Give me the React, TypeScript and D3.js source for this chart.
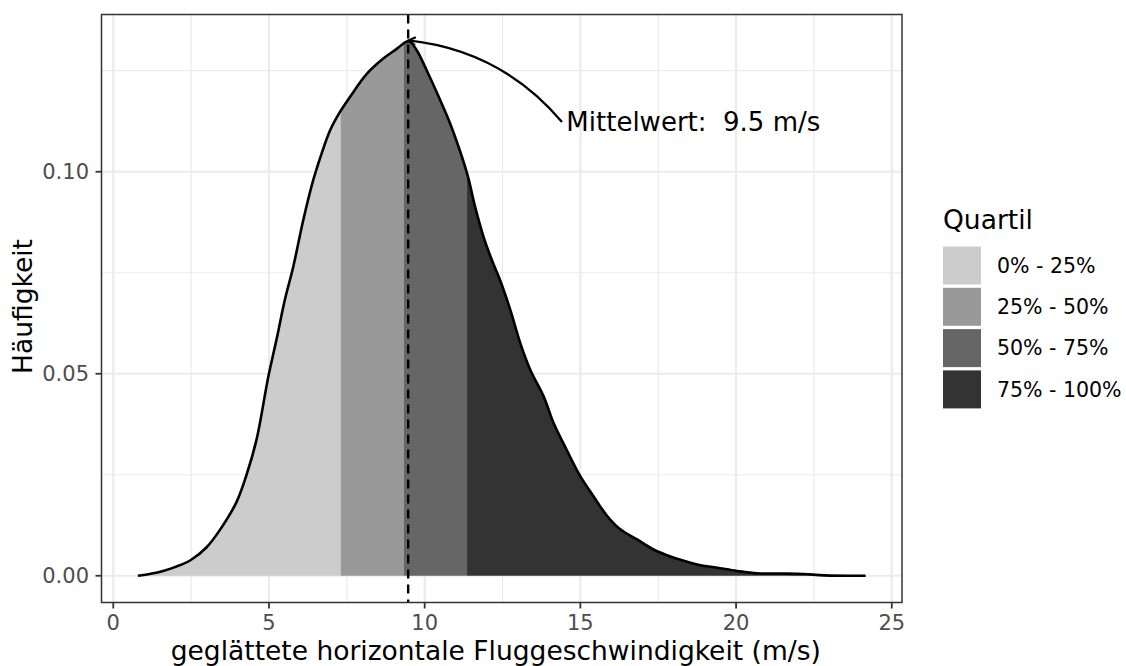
import React from "react";
import * as d3 from "d3";

// ---- data ----
const densX = [0.79, 1.2, 1.6, 2.0, 2.49, 2.99, 3.42, 3.96, 4.28, 4.6, 4.98, 5.24, 5.51, 5.78, 6.1, 6.42, 6.69, 6.96, 7.28, 7.6, 8.14, 8.67, 9.1, 9.37, 9.51, 9.75, 10.07, 10.5, 10.82, 11.14, 11.4, 11.62, 11.89, 12.16, 12.42, 12.75, 13.07, 13.39, 13.82, 14.14, 14.57, 15.0, 15.42, 15.86, 16.28, 16.82, 17.35, 17.78, 18.32, 18.86, 19.39, 20.03, 20.68, 21.43, 22.18, 22.82, 24.16];
const densY = [0.0, 0.0005, 0.0012, 0.0022, 0.0039, 0.007, 0.0113, 0.0183, 0.025, 0.0337, 0.0493, 0.0584, 0.0683, 0.0765, 0.088, 0.0979, 0.1045, 0.1102, 0.1148, 0.1185, 0.1242, 0.128, 0.1304, 0.132, 0.1323, 0.13, 0.125, 0.1177, 0.1119, 0.105, 0.0985, 0.0913, 0.0839, 0.0781, 0.0732, 0.0658, 0.0576, 0.051, 0.0444, 0.0378, 0.031, 0.0246, 0.0197, 0.0148, 0.0115, 0.009, 0.0065, 0.0051, 0.0037, 0.0026, 0.002, 0.0012, 0.0006, 0.00055, 0.00045, 0.0001, 0.0];

const quartileBreaks = [7.3, 9.32, 11.36];
const quartileLabels = ["0% - 25%", "25% - 50%", "50% - 75%", "75% - 100%"];
const quartileColors = ["#CCCCCC", "#999999", "#666666", "#333333"];

const meanValue = 9.47;
const meanLabel = "Mittelwert:  9.5 m/s";
const annotFrom = [14.41, 0.1123];
const annotTo = [9.48, 0.1325];
const annotText = [14.55, 0.1123];

const xTicks = [0, 5, 10, 15, 20, 25];
const xMinor = [2.5, 7.5, 12.5, 17.5, 22.5];
const yTicks = [0, 0.05, 0.1];
const yMinor = [0.025, 0.075, 0.125];

const xTitle = "geglättete horizontale Fluggeschwindigkeit (m/s)";
const yTitle = "Häufigkeit";
const legendTitle = "Quartil";

// ---- layout ----
const W = 1126, H = 666;
const P = { left: 101.5, right: 902, top: 14.5, bottom: 602.5 };
const FONT = "DejaVu Sans, sans-serif";
const TITLE_SIZE = 26.5;
const SMALL_SIZE = 21;

export default function App() {
  const xMin = d3.min(densX)!, xMax = d3.max(densX)!;
  const xSpan = xMax - xMin;
  const yMax = d3.max(densY)!;
  const x = d3.scaleLinear().domain([xMin - 0.05 * xSpan, xMax + 0.05 * xSpan]).range([P.left, P.right]);
  const y = d3.scaleLinear().domain([-0.05 * yMax, yMax * 1.05]).range([P.bottom, P.top]);

  const pts: [number, number][] = densX.map((v, i) => [v, densY[i]]);
  const curve = d3.curveCatmullRom.alpha(0.5);
  const area = d3.area<[number, number]>().x(d => x(d[0])).y0(y(0)).y1(d => Math.min(y(0), y(d[1]))).curve(curve);
  const line = d3.line<[number, number]>().x(d => x(d[0])).y(d => y(d[1])).curve(curve);

  const edges = [xMin, ...quartileBreaks, xMax];

  // annotation curve (quadratic, bulging upward)
  const sx = x(annotFrom[0]), sy = y(annotFrom[1]);
  const ex = x(annotTo[0]), ey = y(annotTo[1]);
  const dx = ex - sx, dy = ey - sy;
  const k = 0.2;
  const ctrlX = (sx + ex) / 2 - k * dy;
  const ctrlY = (sy + ey) / 2 + k * dx;
  const curvePath = `M${sx},${sy} Q${ctrlX},${ctrlY} ${ex},${ey}`;
  const ang = Math.atan2(ey - ctrlY, ex - ctrlX);
  const ah = 8, aa = Math.PI / 6;
  const a1x = ex - ah * Math.cos(ang - aa), a1y = ey - ah * Math.sin(ang - aa);
  const a2x = ex - ah * Math.cos(ang + aa), a2y = ey - ah * Math.sin(ang + aa);

  const legendX = 943;
  const legendKeyTop = 245;
  const keyStep = 41.3;

  return (
    <svg width={W} height={H} style={{ position: "absolute", left: 0, top: 0, background: "#fff" }} fontFamily={FONT}>
      <rect x={0} y={0} width={W} height={H} fill="#fff" />
      <defs>
        {quartileColors.map((c, i) => (
          <clipPath id={`q${i}`} key={i}>
            <rect x={x(edges[i]) - (i === 0 ? 2 : 0)} y={P.top} width={x(edges[i + 1]) - x(edges[i]) + (i === 3 || i === 0 ? 2 : 0)} height={P.bottom - P.top} />
          </clipPath>
        ))}
      </defs>
      {/* grid */}
      {xMinor.map(v => <line key={"xm" + v} x1={x(v)} x2={x(v)} y1={P.top} y2={P.bottom} stroke="#EBEBEB" strokeWidth={1.2} />)}
      {yMinor.map(v => <line key={"ym" + v} x1={P.left} x2={P.right} y1={y(v)} y2={y(v)} stroke="#EBEBEB" strokeWidth={1.2} />)}
      {xTicks.map(v => <line key={"xg" + v} x1={x(v)} x2={x(v)} y1={P.top} y2={P.bottom} stroke="#EBEBEB" strokeWidth={2.2} />)}
      {yTicks.map(v => <line key={"yg" + v} x1={P.left} x2={P.right} y1={y(v)} y2={y(v)} stroke="#EBEBEB" strokeWidth={2.2} />)}

      {/* quartile fills */}
      {quartileColors.map((c, i) => (
        <path key={"a" + i} d={area(pts) || ""} fill={c} clipPath={`url(#q${i})`} />
      ))}
      <path d={line(pts) || ""} fill="none" stroke="#000" strokeWidth={2.6} strokeLinejoin="round" />

      {/* mean line */}
      <line x1={x(meanValue)} x2={x(meanValue)} y1={P.top} y2={P.bottom} stroke="#000" strokeWidth={2.4} strokeDasharray="9,6" />

      {/* annotation */}
      <path d={curvePath} fill="none" stroke="#000" strokeWidth={2.2} />
      <polyline points={`${a1x},${a1y} ${ex},${ey} ${a2x},${a2y}`} fill="none" stroke="#000" strokeWidth={2.2} />
      <text x={x(annotText[0])} y={y(annotText[1])} dy="0.36em" fontSize={26} fill="#000" style={{ whiteSpace: "pre" }}>{meanLabel}</text>

      {/* panel border */}
      <rect x={P.left} y={P.top} width={P.right - P.left} height={P.bottom - P.top} fill="none" stroke="#333" strokeWidth={1.5} />

      {/* axes */}
      {xTicks.map(v => (
        <g key={"xt" + v}>
          <line x1={x(v)} x2={x(v)} y1={P.bottom} y2={P.bottom + 6} stroke="#333" strokeWidth={1.8} />
          <text x={x(v)} y={630} textAnchor="middle" fontSize={SMALL_SIZE} fill="#4D4D4D">{v}</text>
        </g>
      ))}
      {yTicks.map(v => (
        <g key={"yt" + v}>
          <line x1={P.left - 6} x2={P.left} y1={y(v)} y2={y(v)} stroke="#333" strokeWidth={1.8} />
          <text x={89} y={y(v)} dy="0.36em" textAnchor="end" fontSize={SMALL_SIZE} fill="#4D4D4D">{d3.format(".2f")(v)}</text>
        </g>
      ))}
      <text x={(P.left + P.right) / 2 - 6} y={660} textAnchor="middle" fontSize={TITLE_SIZE} fill="#000">{xTitle}</text>
      <text transform={`translate(32,${(P.top + P.bottom) / 2 - 2}) rotate(-90)`} textAnchor="middle" fontSize={TITLE_SIZE} fill="#000">{yTitle}</text>

      {/* legend */}
      <text x={legendX} y={229} fontSize={TITLE_SIZE} fill="#000">{legendTitle}</text>
      {quartileLabels.map((lab, i) => (
        <g key={"lg" + i}>
          <rect x={legendX} y={legendKeyTop + i * keyStep + 1.5} width={38} height={38} fill={quartileColors[i]} />
          <text x={997} y={legendKeyTop + i * keyStep + 20.5} dy="0.36em" fontSize={20.5} fill="#000">{lab}</text>
        </g>
      ))}
    </svg>
  );
}
